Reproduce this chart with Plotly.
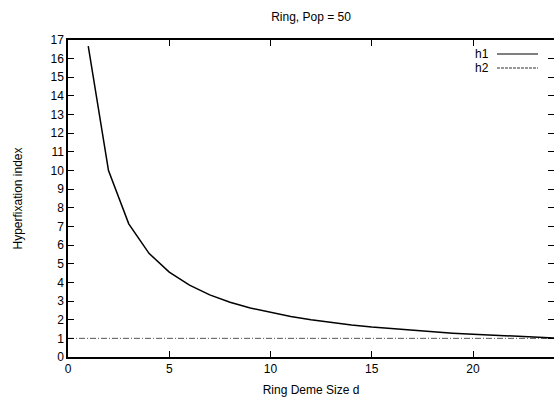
import plotly.graph_objects as go

# Data
d_values = list(range(1, 25))
h1_values = [16.67, 10.0, 7.14, 5.56, 4.55, 3.85, 3.33, 2.94, 2.63, 2.38, 2.17, 2.0,
             1.85, 1.72, 1.61, 1.52, 1.43, 1.35, 1.28, 1.22, 1.16, 1.11, 1.06, 1.02]
h2_x = [0, 24]
h2_values = [1, 1]

title_text = "Ring, Pop = 50"
x_label = "Ring Deme Size d"
y_label = "Hyperfixation index"
legend_names = ["h1", "h2"]

FONT = "Liberation Sans, Arial, Helvetica, sans-serif"

fig = go.Figure()
fig.add_trace(go.Scatter(x=h2_x, y=h2_values, mode="lines", name=legend_names[1],
                         line=dict(color="#555555", width=1, dash="6px,2px,1px,2px"),
                         showlegend=False))
fig.add_trace(go.Scatter(x=d_values, y=h1_values, mode="lines", name=legend_names[0],
                         line=dict(color="black", width=1.5), showlegend=False))
# invisible trace to activate the right-hand tick axis
fig.add_trace(go.Scatter(x=h2_x, y=h2_values, yaxis="y2", mode="lines",
                         line=dict(width=0), hoverinfo="skip", showlegend=False))

# gnuplot-style legend (text left of sample)
W, H = 554, 403
L, R, T, B = 68, 0, 40, 46
pw, ph = W - L - R, H - T - B
def px(x): return (x - L) / pw
def py(y): return (H - B - y) / ph

for i, (name, dash, color) in enumerate([(legend_names[0], "solid", "black"),
                                          (legend_names[1], "3px,1px", "#333333")]):
    yy = 54 + i * 14
    fig.add_annotation(x=px(491), y=py(yy), xref="paper", yref="paper", text=name,
                       showarrow=False, xanchor="right", yanchor="middle",
                       font=dict(family=FONT, size=12, color="black"))
    fig.add_shape(type="line", xref="paper", yref="paper", x0=px(497), x1=px(538),
                  y0=py(yy), y1=py(yy), line=dict(color=color, width=1, dash=dash))

tick_common = dict(ticks="inside", ticklen=6, tickcolor="black", tickwidth=1,
                   showgrid=False, zeroline=False,
                   tickfont=dict(family=FONT, size=12, color="black"))

fig.update_layout(
    width=W, height=H,
    margin=dict(l=L, r=R, t=T, b=B),
    paper_bgcolor="white", plot_bgcolor="white",
    title=dict(text=title_text, x=311 / W, xanchor="center",
               y=1 - 17 / H, yanchor="middle",
               font=dict(family=FONT, size=12, color="black")),
    xaxis=dict(range=[0, 24], tickvals=[0, 5, 10, 15, 20], ticktext=["0", "5", "10", "15", "20"],
               showline=True, linecolor="black", linewidth=1.5, mirror="ticks",
               title=dict(text=x_label, standoff=10, font=dict(family=FONT, size=12, color="black")),
               **tick_common),
    yaxis=dict(range=[0, 17], dtick=1, tick0=0,
               showline=True, linecolor="black", linewidth=1.5, mirror=False,
               title=dict(text=y_label, standoff=25, font=dict(family=FONT, size=12, color="black")),
               **tick_common),
    yaxis2=dict(range=[0, 17], dtick=1, tick0=0, overlaying="y", side="right",
                showline=False, showticklabels=False, **tick_common),
)

fig.write_html("out.html")
